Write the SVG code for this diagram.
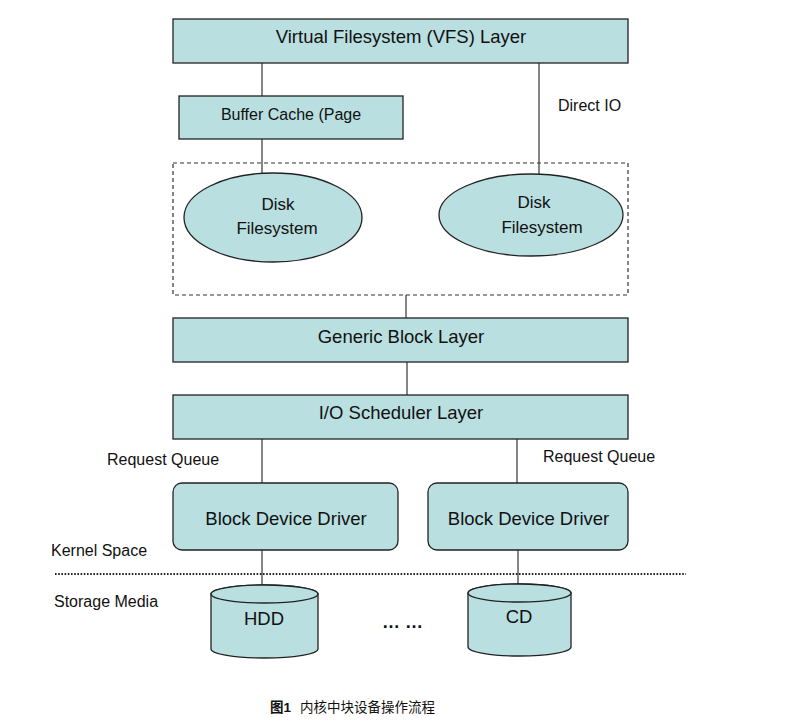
<svg xmlns="http://www.w3.org/2000/svg" width="796" height="725" viewBox="0 0 796 725">
<style>
.box{fill:#b9dfe0;stroke:#222;stroke-width:1.3}
.ln{stroke:#444;stroke-width:1.3;fill:none}
.t{font-family:"Liberation Sans",Arial,sans-serif;fill:#111}
.c{text-anchor:middle}
</style>
<rect width="796" height="725" fill="#fff"/>
<g id="connectors">
<line class="ln" x1="262" y1="63" x2="262" y2="96"/>
<line class="ln" x1="262" y1="139" x2="262" y2="173"/>
<line class="ln" x1="539" y1="63" x2="539" y2="174"/>
<line class="ln" x1="406" y1="295" x2="406" y2="318"/>
<line class="ln" x1="407" y1="362" x2="407" y2="395"/>
<line class="ln" x1="262" y1="439" x2="262" y2="483"/>
<line class="ln" x1="517" y1="439" x2="517" y2="483"/>
<line class="ln" x1="262" y1="550" x2="262" y2="585"/>
<line class="ln" x1="518" y1="550" x2="518" y2="584"/>
</g>
<g id="vfs">
<rect class="box" x="173" y="19" width="455" height="44"/>
<text class="t c" x="401" y="43" font-size="18.5">Virtual Filesystem (VFS) Layer</text>
</g>
<g id="buffer-cache">
<rect class="box" x="179" y="96" width="224" height="43"/>
<text class="t c" x="291" y="120" font-size="16">Buffer Cache (Page</text>
</g>
<text class="t" x="558" y="111" font-size="16">Direct IO</text>
<g id="fs-group">
<rect x="173" y="163" width="455" height="132" fill="none" stroke="#333" stroke-width="1.2" stroke-dasharray="4 3"/>
</g>
<g id="disk-fs-1">
<ellipse class="box" cx="273" cy="217.5" rx="89" ry="44.5"/>
<text class="t c" x="278" y="210" font-size="17">Disk</text>
<text class="t c" x="277" y="234" font-size="17">Filesystem</text>
</g>
<g id="disk-fs-2">
<ellipse class="box" cx="531" cy="215" rx="92" ry="41"/>
<text class="t c" x="534" y="208" font-size="17">Disk</text>
<text class="t c" x="542" y="233" font-size="17">Filesystem</text>
</g>
<g id="generic-block">
<rect class="box" x="173" y="318" width="455" height="44"/>
<text class="t c" x="401" y="343" font-size="18.5">Generic Block Layer</text>
</g>
<g id="io-scheduler">
<rect class="box" x="173" y="395" width="455" height="44"/>
<text class="t c" x="401" y="419" font-size="18.5">I/O Scheduler Layer</text>
</g>
<text class="t" x="107" y="465" font-size="16">Request Queue</text>
<text class="t" x="543" y="462" font-size="16">Request Queue</text>
<g id="bdd-1">
<rect class="box" x="173" y="483" width="225" height="67" rx="9"/>
<text class="t c" x="286" y="525" font-size="18.5">Block Device Driver</text>
</g>
<g id="bdd-2">
<rect class="box" x="428" y="483" width="200" height="67" rx="9"/>
<text class="t c" x="528.5" y="525" font-size="18.5">Block Device Driver</text>
</g>
<text class="t" x="51" y="556" font-size="16">Kernel Space</text>
<line x1="55" y1="574" x2="686" y2="574" stroke="#222" stroke-width="2.2" stroke-dasharray="1.6 1.6"/>
<text class="t" x="54" y="607" font-size="16">Storage Media</text>
<g id="hdd">
<path class="box" d="M211,594 V649 A53.5,9 0 0 0 318,649 V594 A53.5,9 0 0 0 211,594 Z"/>
<ellipse class="box" cx="264.5" cy="594" rx="53.5" ry="9"/>
<text class="t c" x="264" y="625" font-size="18.5">HDD</text>
</g>
<text class="t" x="382" y="628" font-size="18" font-weight="bold">… …</text>
<g id="cd">
<path class="box" d="M468,593 V647 A51.5,9 0 0 0 571,647 V593 A51.5,9 0 0 0 468,593 Z"/>
<ellipse class="box" cx="519.5" cy="593" rx="51.5" ry="9"/>
<text class="t c" x="519" y="623" font-size="18.5">CD</text>
</g>
<text x="270" y="712" font-size="13.5" font-family="'Liberation Sans','Noto Sans CJK SC',sans-serif" fill="#111"><tspan font-weight="bold">图1</tspan><tspan x="300">内核中块设备操作流程</tspan></text>
</svg>
